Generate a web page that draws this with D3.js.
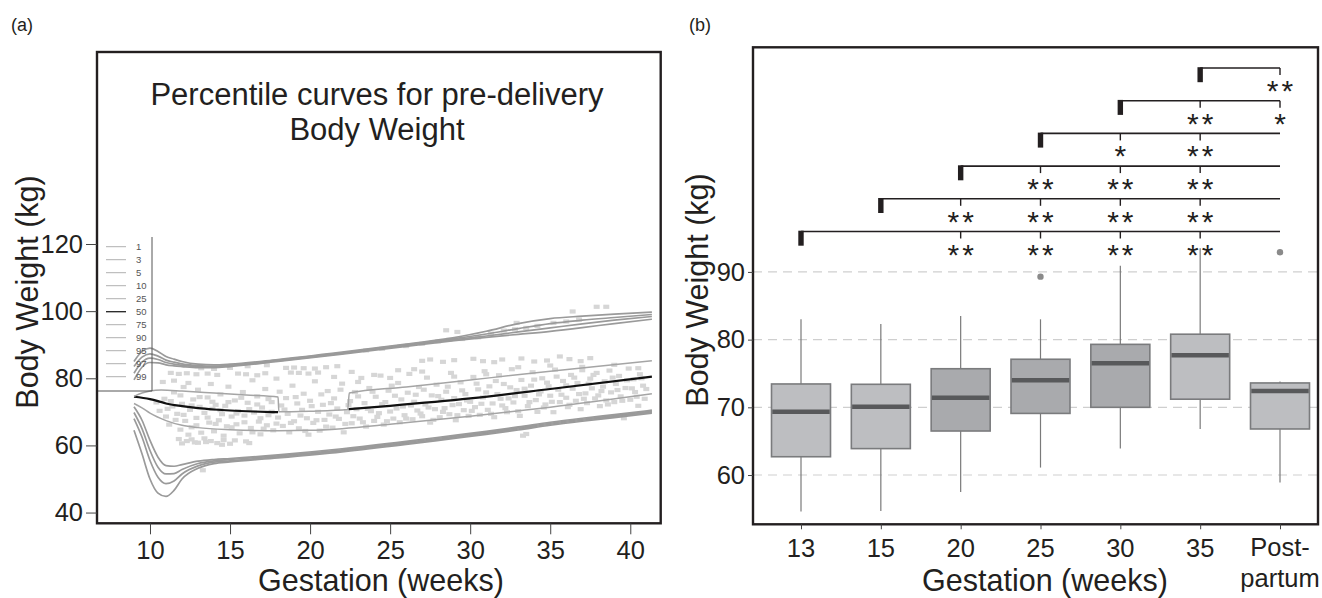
<!DOCTYPE html>
<html><head><meta charset="utf-8">
<script src="https://cdn.jsdelivr.net/npm/d3@7"></script>
<style>body{margin:0;background:#fff}svg{display:block;font-family:"Liberation Sans",Arial,sans-serif}</style>
</head><body><svg id="c" width="1322" height="598"></svg>
<script>
// ---------- Panel (a) data ----------
const xTicksA = [10, 15, 20, 25, 30, 35, 40];
const yTicksA = [40, 60, 80, 100, 120];
const legendLabels = ["1", "3", "5", "10", "25", "50", "75", "90", "95", "97", "99"];
const weeksGrid = [9, 9.5, 10, 10.5, 11, 11.5, 12, 13, 14, 15, 18, 22, 26, 29, 31, 33, 35, 37, 39, 41.35];
const p99 = [85, 88, 89, 88, 86.5, 85.7, 85, 84.2, 84, 84.2, 85.6, 87.8, 90.2, 92.1, 94, 96.3, 97.8, 98.5, 99.1, 99.7];
const p97 = [83.5, 86.3, 87.3, 86.6, 85.4, 84.8, 84.3, 83.8, 83.6, 83.9, 85.4, 87.6, 90.0, 91.8, 93.2, 94.8, 96.3, 97.3, 98.1, 99.0];
const p95 = [81.5, 84.8, 86.0, 85.6, 84.7, 84.2, 83.9, 83.5, 83.4, 83.7, 85.2, 87.4, 89.8, 91.5, 92.6, 93.8, 95.0, 96.2, 97.3, 98.4];
const p90 = [79.5, 83.3, 84.7, 84.6, 84.0, 83.7, 83.5, 83.2, 83.2, 83.5, 85.0, 87.2, 89.5, 91.2, 92.2, 93.1, 94.0, 95.1, 96.3, 97.6];
const p10 = [71.5, 67.5, 61.5, 56.5, 54.0, 53.8, 54.3, 55.3, 55.8, 56.1, 57.2, 59.0, 61.2, 63.0, 64.2, 65.5, 66.9, 68.1, 69.2, 70.5];
const p5  = [69.8, 65.0, 58.5, 53.5, 51.5, 51.6, 52.8, 54.6, 55.4, 55.8, 56.9, 58.7, 60.9, 62.7, 63.9, 65.2, 66.6, 67.8, 68.9, 70.2];
const p3  = [68.0, 62.5, 55.5, 50.5, 48.6, 49.4, 51.5, 53.9, 55.0, 55.4, 56.6, 58.4, 60.6, 62.4, 63.6, 64.9, 66.3, 67.5, 68.6, 69.9];
const p1  = [64.5, 57.5, 50.0, 45.8, 44.8, 46.6, 50.0, 53.2, 54.6, 55.1, 56.3, 58.1, 60.3, 62.1, 63.3, 64.6, 66.0, 67.2, 68.3, 69.6];
const p75 = [[9,74.6],[9.5,75.6],[10,76.2],[10.7,76.5],[12,76.2],[14,75.6],[16,75.0],[18,74.4],[18.05,70.0],[20,70.2],[22.35,70.7],[22.45,75.6],[26,77.4],[30,79.5],[35,82.1],[41.35,85.2]];
const p50 = [[9,74.5],[10,73.8],[10.5,73.2],[11,72.5],[12,71.7],[13,71.1],[14,70.7],[15,70.4],[16.5,70.1],[18,69.9],[20,null],[22.4,70.8],[25,71.8],[30,74.0],[35,76.8],[41.35,80.5]];
const p25 = [[9,72.5],[9.5,71.2],[10,69.6],[11,67.4],[12,66.0],[13,65.3],[15,64.7],[18,64.4],[20,64.5],[22,65.0],[25,66.3],[30,68.7],[35,71.4],[41.35,75.4]];
const scatterUpper = [[11.3,81.6],[11.8,81.3],[12.3,81.5],[12.9,81.2],[13.6,81.4],[14.2,81.0],[15.5,81.4],[16.0,81.2],[16.7,80.9],[17.2,81.5],[18.8,81.7],[19.3,81.6],[19.9,81.4],[20.5,81.7],
[13.2,83.0],[14.0,82.8],[15.0,83.1],[16.1,83.6],[17.3,83.9],[18.5,83.1],[19.0,83.2],[19.6,83.0],[20.3,82.9],[21.0,83.3],[21.7,83.6],
[23.5,88.3],[24.5,88.8],[26.0,89.6],[27.0,90.3],[28.0,91.0],[28.7,91.5],[29.5,91.7],[30.5,92.2],[31.3,93.3],[32.1,94.2],[32.8,94.6],[33.5,95.0],[34.2,95.6],[35.2,96.5],[36.0,96.9],[36.8,97.5],
[37.9,101.3],[38.5,101.3],[36.4,99.9],[28.5,94.3],[29.2,93.8],[32.9,96.5],
[27.0,85.2],[27.5,85.6],[28.3,84.9],[29.0,85.4],[30.2,85.8],[30.8,85.1],[31.5,84.8],[32.0,85.6],[33.2,85.9],[34.0,85.0],[34.8,85.3],[35.6,86.5],[36.2,85.7],[36.9,85.1],[37.5,86.0],
[25.5,82.4],[26.5,82.7],[22.6,81.9],[24.0,81.0],[10.8,78.9],[11.5,79.3],[12.4,78.6],
[21.5,80.4],[23.0,78.9],[25.0,80.1],[27.0,82.0],[29.0,80.5],[31.0,81.2],[33.0,83.3],[35.0,83.8],[37.0,82.4],[39.0,84.0],[40.5,83.0]];
const scatterMain = [[10.4,72.8],[10.6,70.3],[10.9,73.9],[11.0,68.6],[11.2,66.2],[11.4,71.6],[11.5,75.8],[11.7,69.4],[11.8,61.9],[11.9,64.7],[12.0,72.4],[12.1,77.4],[12.2,67.3],[12.3,61.3],
[12.5,70.6],[12.6,65.4],[12.7,73.7],[12.8,60.9],[12.9,68.2],[13.0,76.6],[13.1,71.5],[13.2,63.8],[13.3,52.6],[13.4,69.7],[13.5,61.0],[13.6,74.3],[13.7,66.8],[13.8,78.3],[13.9,70.9],[14.0,64.2],[14.1,72.1],[14.2,60.7],[14.3,67.5],[14.4,75.2],[14.5,69.3],[14.6,62.9],[14.7,71.8],[14.8,65.7],[14.9,77.5],[15.0,60.5],[15.1,68.6],
[15.3,73.4],[15.4,66.3],[15.5,70.2],[15.6,63.6],[15.8,75.9],[15.9,68.9],[16.0,61.2],[16.1,72.7],[16.3,65.2],[16.4,79.4],[16.5,69.8],[16.7,74.6],[16.8,67.1],[16.9,63.3],[17.0,71.3],[17.2,76.8],[17.3,66.0],[17.4,69.0],[17.6,72.9],[17.7,64.5],[17.9,79.9],[18.0,68.3],
[18.2,71.9],[18.3,65.8],[18.5,74.1],[18.6,69.4],[18.7,63.9],[18.9,77.8],[19.0,67.2],[19.2,72.5],[19.3,65.1],[19.5,70.6],[19.6,75.4],[19.8,68.1],[19.9,63.2],[20.0,73.3],[20.2,66.7],[20.3,79.1],[20.5,70.0],[20.6,64.4],[20.8,72.1],[20.9,67.6],[21.1,76.2],[21.2,69.2],[21.4,65.3],[21.5,74.0],[21.7,71.0],[21.8,67.9],[22.0,78.4],[22.1,63.9],[22.3,69.9],[22.5,73.2],[22.6,66.6],[22.8,75.9],[22.9,70.8],
[23.1,68.0],[23.2,80.1],[23.4,72.6],[23.5,65.6],[23.7,77.1],[23.8,70.2],[24.0,67.3],[24.1,74.5],[24.3,69.6],[24.4,80.8],[24.6,66.2],[24.7,72.9],[24.9,76.3],[25.0,70.1],[25.2,68.0],[25.3,74.8],[25.5,78.6],[25.6,66.9],[25.8,71.6],[25.9,69.0],[26.1,75.7],[26.2,81.3],[26.4,67.8],[26.5,73.0],[26.7,70.4],[26.8,77.4],[27.0,68.7],[27.2,72.2],[27.3,80.2],[27.5,66.8],[27.6,74.9],[27.8,70.8],[27.9,78.1],[28.1,68.4],[28.2,73.6],[28.4,71.1],[28.5,76.0],[28.7,69.3],[28.8,81.6],[29.0,74.1],[29.1,67.5],[29.3,72.3],[29.4,78.8],[29.6,70.5],[29.7,75.3],[29.9,68.8],
[30.0,73.0],[30.2,80.4],[30.3,71.4],[30.5,76.7],[30.6,69.1],[30.8,74.3],[30.9,82.1],[31.1,70.6],[31.2,77.6],[31.4,72.5],[31.5,68.4],[31.7,75.3],[31.8,80.9],[32.0,71.9],[32.1,78.3],[32.3,69.9],[32.4,74.0],[32.6,82.7],[32.7,72.8],[32.9,76.5],[33.0,70.2],[33.2,79.5],[33.3,62.9],[33.4,74.8],[33.5,63.4],[33.6,71.7],[33.8,77.8],[33.9,81.8],[34.1,73.5],[34.2,70.0],[34.4,76.1],[34.5,80.0],[34.7,72.2],[34.8,78.7],[35.0,74.8],[35.2,69.9],[35.3,82.6],[35.5,76.6],[35.6,72.9],[35.8,79.2],
[36.0,74.2],[36.1,71.4],[36.3,81.0],[36.4,76.9],[36.6,73.3],[36.7,78.6],[36.9,70.8],[37.0,83.4],[37.2,75.5],[37.3,72.6],[37.5,79.9],[37.6,77.0],[37.8,74.0],[37.9,81.6],[38.1,71.7],[38.2,76.2],[38.4,79.1],[38.5,73.4],[38.7,82.3],[38.8,75.8],[39.0,72.9],[39.1,78.3],[39.3,80.7],[39.4,74.6],[39.6,68.1],[39.7,77.1],[39.9,82.9],[40.0,73.6],[40.2,79.7],[40.3,75.9],[40.5,71.8],[40.6,81.2],[40.8,77.8],[40.9,73.9]];
const scatterDense = [[11.1,70.9],[11.3,73.2],[11.6,67.6],[11.9,74.9],[12.1,69.1],[12.4,63.2],[12.6,71.9],[12.9,66.0],[13.1,74.4],[13.4,62.1],[13.6,68.3],[13.9,73.0],[14.1,66.4],[14.4,70.5],[14.6,61.6],[14.9,72.9],[15.1,65.4],[15.4,69.5],[15.7,74.2],[15.9,66.9],[16.2,70.8],[16.4,63.9],[16.7,72.2],[16.9,68.1],[17.1,65.0],[17.4,73.8],[17.6,70.0],[17.9,66.5],[18.1,76.0],
[12.0,60.6],[12.6,61.8],[13.0,60.8],[13.8,61.3],[14.5,60.2],[15.3,61.5],[16.2,60.7],
[18.4,70.7],[18.8,66.7],[19.1,74.4],[19.4,68.9],[19.7,64.3],[20.1,71.7],[20.4,67.5],[20.7,75.2],[21.0,65.6],[21.3,72.6],[21.6,68.6],[21.9,76.6],[22.2,66.4],[22.4,72.0],[22.7,68.7],[23.0,74.6],[23.3,66.9],[23.6,70.9],[23.9,76.0],[24.2,68.5],[24.5,72.3],[24.8,67.2],[25.1,77.8],[25.4,71.0],[25.7,73.7],
[26.0,68.0],[26.3,71.9],[26.6,75.1],[26.9,69.5],[27.1,76.6],[27.4,71.3],[27.7,67.6],[28.0,74.7],[28.3,70.0],[28.6,77.5],[28.9,72.0],[29.2,69.0],[29.5,76.4],[29.8,73.4],[30.1,70.3],[30.4,78.4],[30.7,72.4],[31.0,75.8],[31.3,69.4],[31.6,79.2],[31.9,73.9],[32.2,71.1],[32.5,77.3],[32.8,74.7],[33.1,68.8],
[33.4,76.9],[33.7,72.9],[34.0,79.6],[34.3,75.2],[34.6,71.3],[34.9,77.6],[35.1,73.0],[35.4,80.5],[35.7,75.1],[36.0,77.9],[36.2,72.1],[36.5,80.2],[36.8,75.3],[37.1,73.9],[37.4,78.4],[37.7,81.0],[38.0,74.9],[38.3,77.5],[38.6,72.2],[38.9,80.2],[39.2,76.5],[39.5,73.3],[39.8,79.4],[40.1,77.0],[40.4,74.5],[40.7,80.0],[41.0,76.8]];

// ---------- Panel (b) data ----------
const categories = ["13", "15", "20", "25", "30", "35", "Post-partum"];
const whiskerLow  = [54.6, 54.7, 57.5, 61.1, 63.9, 66.8, 58.9];
const q1          = [62.7, 63.9, 66.5, 69.1, 70.0, 71.2, 66.8];
const medians     = [69.35, 70.1, 71.4, 74.0, 76.5, 77.7, 72.4];
const q3          = [73.45, 73.4, 75.7, 77.1, 79.3, 80.8, 73.6];
const whiskerHigh = [83.0, 82.3, 83.5, 83.0, 90.9, 93.5, 73.8];
const outliers = [["25", 89.3], ["Post-partum", 92.9]];
const yTicksB = [60, 70, 80, 90];
const bracketFrom = ["13", "15", "20", "25", "30", "35"];
const bracketMarks = [
  [["20","**"],["25","**"],["30","**"],["35","**"]],
  [["20","**"],["25","**"],["30","**"],["35","**"]],
  [["25","**"],["30","**"],["35","**"]],
  [["30","*"],["35","**"]],
  [["35","**"],["Post-partum","*"]],
  [["Post-partum","**"]]
];

// ---------- drawing ----------
const svg = d3.select("#c");
svg.append("rect").attr("width",1322).attr("height",598).attr("fill","#fff");
const ink = "#231f20";

// Panel (a)
const A = {left:97, right:660.7, top:52, bottom:523.3};
const xA = d3.scaleLinear().domain([6.69, 41.9]).range([A.left, A.right]);
const yA = d3.scaleLinear().domain([36.8, 177.2]).range([A.bottom, A.top]);
const gA = svg.append("g");

gA.selectAll("rect.pt").data(scatterMain.concat(scatterDense, scatterUpper)).join("rect").attr("class","pt")
  .attr("x", d => xA(d[0]) - 3).attr("y", d => yA(d[1]) - 2.1)
  .attr("width", 6).attr("height", 4.2).attr("fill", "#d6d6d6");

const lineA = d3.line().defined(d => d[1] != null).x(d => xA(d[0])).y(d => yA(d[1])).curve(d3.curveMonotoneX);
const gridCurves = [p1, p3, p5, p10, p90, p95, p97, p99];
gridCurves.forEach(arr => {
  gA.append("path").attr("d", lineA(weeksGrid.map((w, i) => [w, arr[i]])))
    .attr("fill","none").attr("stroke","#9a9a9a").attr("stroke-width",1.7);
});
gA.append("path").attr("d", lineA(p25)).attr("fill","none").attr("stroke","#a5a5a5").attr("stroke-width",1.5);
gA.append("path").attr("d", lineA(p50)).attr("fill","none").attr("stroke","#111").attr("stroke-width",2.2);
gA.append("path").attr("d", lineA(p75)).attr("fill","none").attr("stroke","#a5a5a5").attr("stroke-width",1.5);

// legend
const lg = gA.append("g");
lg.append("path").attr("d", "M97,391H152V237").attr("fill","none").attr("stroke","#555").attr("stroke-width",1);
legendLabels.forEach((t, i) => {
  const y = 246.7 + i * 13;
  lg.append("line").attr("x1",106).attr("x2",126).attr("y1",y).attr("y2",y)
    .attr("stroke", t === "50" ? "#222" : "#b0b0b0").attr("stroke-width", t === "50" ? 1.3 : 1);
  lg.append("text").attr("x",136).attr("y",y).attr("dy","0.35em").attr("font-size",9.5)
    .attr("fill","#555").text(t);
});

// box
gA.append("rect").attr("x",A.left).attr("y",A.top).attr("width",A.right-A.left).attr("height",A.bottom-A.top)
  .attr("fill","none").attr("stroke",ink).attr("stroke-width",2.4);

const axYA = gA.append("g").attr("transform",`translate(${A.left},0)`)
  .call(d3.axisLeft(yA).tickValues(yTicksA).tickSize(11).tickPadding(3));
const axXA = gA.append("g").attr("transform",`translate(0,${A.bottom})`)
  .call(d3.axisBottom(xA).tickValues(xTicksA).tickSize(11).tickPadding(7));
[axYA, axXA].forEach(ax => {
  ax.select(".domain").remove();
  ax.selectAll("line").attr("stroke","#444").attr("stroke-width",1);
  ax.selectAll("text").attr("font-size",25.5).attr("fill",ink).attr("font-family","Liberation Sans, Arial, sans-serif");
});

gA.append("text").attr("x",377).attr("y",105).attr("text-anchor","middle").attr("font-size",31).attr("fill",ink)
  .text("Percentile curves for pre-delivery");
gA.append("text").attr("x",377).attr("y",140).attr("text-anchor","middle").attr("font-size",31).attr("fill",ink)
  .text("Body Weight");
gA.append("text").attr("transform","translate(38,292) rotate(-90)").attr("text-anchor","middle")
  .attr("font-size",30.5).attr("fill",ink).text("Body Weight (kg)");
gA.append("text").attr("x",381).attr("y",591).attr("text-anchor","middle").attr("font-size",30.5).attr("fill",ink)
  .text("Gestation (weeks)");
svg.append("text").attr("x",11).attr("y",31).attr("font-size",18).attr("fill",ink).text("(a)");
svg.append("text").attr("x",689).attr("y",31).attr("font-size",18).attr("fill",ink).text("(b)");

// Panel (b)
const B = {left:753, right:1318, top:47.3, bottom:524.3};
const xB = d3.scalePoint().domain(categories).range([801, 1280]);
const yB = d3.scaleLinear().domain([52.72, 123.18]).range([B.bottom, B.top]);
const gB = svg.append("g");
const boxW = 59;
const fills = ["#bdbec1","#bdbec1","#a9aaad","#a9aaad","#a9aaad","#bdbec1","#bdbec1"];

gB.selectAll("line.grid").data(yTicksB).join("line").attr("class","grid")
  .attr("x1",B.left).attr("x2",B.right).attr("y1",d => yB(d)).attr("y2",d => yB(d))
  .attr("stroke","#cfcfcf").attr("stroke-width",1.2).attr("stroke-dasharray","9,6");

categories.forEach((c, i) => {
  const x = xB(c);
  gB.append("line").attr("x1",x).attr("x2",x).attr("y1",yB(whiskerLow[i])).attr("y2",yB(whiskerHigh[i]))
    .attr("stroke","#7a7a7a").attr("stroke-width",1.2);
  gB.append("rect").attr("x",x-boxW/2).attr("y",yB(q3[i])).attr("width",boxW).attr("height",yB(q1[i])-yB(q3[i]))
    .attr("fill",fills[i]).attr("stroke","#7a7b7d").attr("stroke-width",1.6);
  gB.append("line").attr("x1",x-boxW/2+0.8).attr("x2",x+boxW/2-0.8).attr("y1",yB(medians[i])).attr("y2",yB(medians[i]))
    .attr("stroke","#58595b").attr("stroke-width",4.5);
});
gB.selectAll("circle.out").data(outliers).join("circle").attr("class","out")
  .attr("cx",d => xB(d[0])).attr("cy",d => yB(d[1])).attr("r",3.2).attr("fill","#8a8a8a");

// significance brackets
const levelY = i => 231.5 - i * 32.7;
const postX = xB("Post-partum");
bracketFrom.forEach((f, i) => {
  const y = levelY(i), x0 = xB(f);
  gB.append("line").attr("x1",x0).attr("x2",postX).attr("y1",y).attr("y2",y).attr("stroke",ink).attr("stroke-width",1.6);
  gB.append("rect").attr("x",x0-2.7).attr("y",y-0.8).attr("width",5.4).attr("height",15).attr("fill",ink);
  bracketMarks[i].forEach(([c, s]) => {
    const x = xB(c);
    gB.append("line").attr("x1",x).attr("x2",x).attr("y1",y).attr("y2",y+7).attr("stroke",ink).attr("stroke-width",1.4);
    gB.append("text").attr("x",x+1.5).attr("y",y+33).attr("text-anchor","middle").attr("font-size",30)
      .attr("letter-spacing","3px").attr("fill",ink).text(s);
  });
});

gB.append("rect").attr("x",B.left).attr("y",B.top).attr("width",B.right-B.left).attr("height",B.bottom-B.top)
  .attr("fill","none").attr("stroke",ink).attr("stroke-width",2.4);
const axYB = gB.append("g").attr("transform",`translate(${B.left},0)`)
  .call(d3.axisLeft(yB).tickValues(yTicksB).tickSize(5).tickPadding(3));
const axXB = gB.append("g").attr("transform",`translate(0,${B.bottom})`)
  .call(d3.axisBottom(xB).tickSize(5).tickFormat(() => ""));
[axYB, axXB].forEach(ax => {
  ax.select(".domain").remove();
  ax.selectAll("line").attr("stroke","#444").attr("stroke-width",1);
  ax.selectAll("text").attr("font-size",25.5).attr("fill",ink).attr("font-family","Liberation Sans, Arial, sans-serif");
});
categories.forEach(c => {
  const t = gB.append("text").attr("x",xB(c)).attr("y",557).attr("text-anchor","middle").attr("font-size",25.5).attr("fill",ink);
  if (c === "Post-partum") {
    t.append("tspan").attr("x",xB(c)).attr("y",556).text("Post-");
    t.append("tspan").attr("x",xB(c)).attr("y",587).text("partum");
  } else t.text(c);
});
gB.append("text").attr("transform","translate(708,290) rotate(-90)").attr("text-anchor","middle")
  .attr("font-size",30.5).attr("fill",ink).text("Body Weight (kg)");
gB.append("text").attr("x",1045).attr("y",591).attr("text-anchor","middle").attr("font-size",30.5).attr("fill",ink)
  .text("Gestation (weeks)");
</script></body></html>
